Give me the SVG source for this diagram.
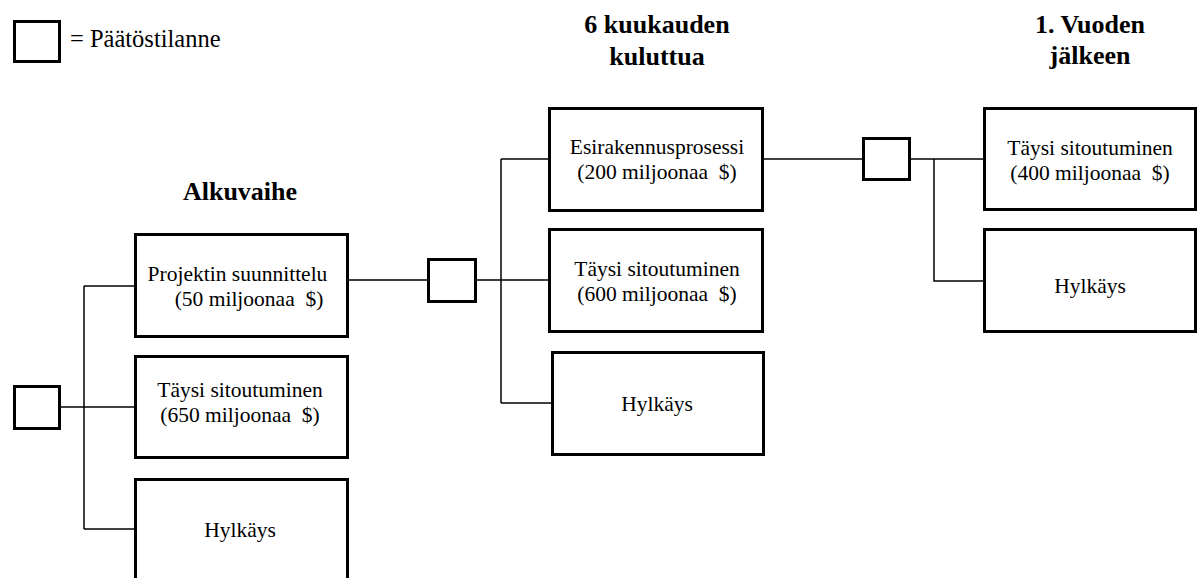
<svg xmlns="http://www.w3.org/2000/svg" width="1197" height="578" viewBox="0 0 1197 578">
<style>
.box{fill:#fff;stroke:#000;stroke-width:3}
.dec{fill:#fff;stroke:#000;stroke-width:3}
.conn path{fill:none;stroke:#000;stroke-width:1.5}
text{font-family:'Liberation Serif','Times New Roman',serif;fill:#000}
.t{font-size:21.5px;text-anchor:middle;white-space:pre}
.h{font-size:26px;font-weight:bold;text-anchor:middle}
.lg{font-size:24.5px}
</style>
<rect width="1197" height="578" fill="#fff"/>
<g id="legend">
<rect class="dec" x="14.5" y="21.5" width="45" height="40"/>
<text class="lg" x="70" y="47">= Päätöstilanne</text>
</g>
<g id="headers">
<text class="h" x="240" y="200">Alkuvaihe</text>
<text class="h" x="657" y="33">6 kuukauden</text>
<text class="h" x="657" y="65">kuluttua</text>
<text class="h" x="1090" y="33">1. Vuoden</text>
<text class="h" x="1090" y="64">jälkeen</text>
</g>
<g id="connectors" class="conn">
<path d="M59 407H135"/>
<path d="M84 286V529"/>
<path d="M84 286H135"/>
<path d="M84 529H135"/>
<path d="M348 280H428"/>
<path d="M476 280H549"/>
<path d="M501 159V403"/>
<path d="M501 159H549"/>
<path d="M501 403H552"/>
<path d="M763 159H863"/>
<path d="M910 159H984"/>
<path d="M934 159V281H984"/>
</g>
<g id="d1"><rect class="dec" x="14.5" y="386.5" width="45" height="42"/></g>
<g id="d2"><rect class="dec" x="428.5" y="259.5" width="47" height="42"/></g>
<g id="d3"><rect class="dec" x="863.5" y="138.5" width="46" height="41"/></g>
<g id="b1">
<rect class="box" x="135.5" y="234.5" width="212" height="102"/>
<text class="t" x="237.5" y="281">Projektin suunnittelu</text>
<text class="t" x="249" y="306">(50 miljoonaa  $)</text>
</g>
<g id="b2">
<rect class="box" x="135.5" y="356.5" width="212" height="101"/>
<text class="t" x="240" y="397">Täysi sitoutuminen</text>
<text class="t" x="240" y="422">(650 miljoonaa  $)</text>
</g>
<g id="b3">
<rect class="box" x="135.5" y="479.5" width="212" height="120"/>
<text class="t" x="240" y="537">Hylkäys</text>
</g>
<g id="c1">
<rect class="box" x="549.5" y="108.5" width="213" height="102"/>
<text class="t" x="657" y="154">Esirakennusprosessi</text>
<text class="t" x="657" y="179">(200 miljoonaa  $)</text>
</g>
<g id="c2">
<rect class="box" x="549.5" y="229.5" width="213" height="102"/>
<text class="t" x="657" y="276">Täysi sitoutuminen</text>
<text class="t" x="657" y="301">(600 miljoonaa  $)</text>
</g>
<g id="c3">
<rect class="box" x="552.5" y="352.5" width="211" height="102"/>
<text class="t" x="657" y="411">Hylkäys</text>
</g>
<g id="e1">
<rect class="box" x="984.5" y="108.5" width="211" height="101"/>
<text class="t" x="1090" y="155">Täysi sitoutuminen</text>
<text class="t" x="1090" y="180">(400 miljoonaa  $)</text>
</g>
<g id="e2">
<rect class="box" x="984.5" y="229.5" width="211" height="102"/>
<text class="t" x="1090" y="293">Hylkäys</text>
</g>
</svg>
